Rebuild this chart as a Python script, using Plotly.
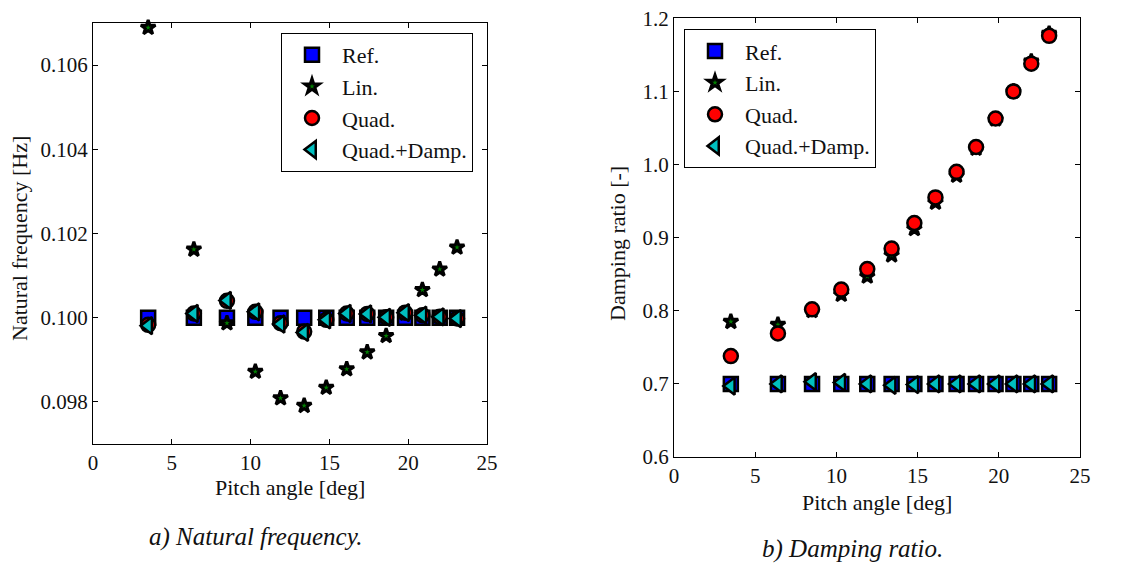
import plotly.graph_objects as go

pitch = [3.5, 6.4, 8.5, 10.3, 11.9, 13.4, 14.8, 16.1, 17.4, 18.6, 19.8, 20.9, 22.0, 23.1]

# Natural frequency [Hz]
fn_ref = [0.1000] * 14
fn_lin = [0.10689, 0.10162, 0.09987, 0.09872, 0.09809, 0.09791, 0.09834, 0.09878,
          0.09918, 0.09957, 0.10010, 0.10066, 0.10115, 0.10167]
fn_quad = [0.09983, 0.10010, 0.10040, 0.10014, 0.09987, 0.09967, 0.09995, 0.10010,
           0.10009, 0.10001, 0.10012, 0.10006, 0.10002, 0.09998]
fn_qd = [0.09981, 0.10010, 0.10041, 0.10014, 0.09985, 0.09965, 0.09995, 0.10010,
         0.10009, 0.10001, 0.10012, 0.10006, 0.10002, 0.09998]
fn_ticks = [0.098, 0.100, 0.102, 0.104, 0.106]

# Damping ratio [-]
zeta_ref = [0.700] * 14
zeta_lin = [0.785, 0.781, 0.800, 0.822, 0.847, 0.876, 0.912, 0.948, 0.985, 1.022,
            1.062, 1.100, 1.141, 1.179]
zeta_quad = [0.738, 0.769, 0.802, 0.829, 0.857, 0.885, 0.920, 0.955, 0.990, 1.024,
             1.063, 1.100, 1.138, 1.176]
zeta_qd = [0.697, 0.700, 0.703, 0.702, 0.700, 0.698, 0.699, 0.700, 0.700, 0.700,
           0.700, 0.700, 0.700, 0.700]
zeta_ticks = [0.6, 0.7, 0.8, 0.9, 1.0, 1.1, 1.2]

pitch_ticks = [0, 5, 10, 15, 20, 25]

names = ["Ref.", "Lin.", "Quad.", "Quad.+Damp."]
symbols = ["square", "star", "circle", "triangle-left"]
colors = ["#0000ff", "#008000", "#ff0000", "#00bfbf"]
sizes = [14, 11, 14, 15]
lwidths = [2.5, 3, 2.5, 2.5]

FONT = "Liberation Serif"
TXT = "#111"

# page has an 8px body margin: figure origin sits at (8, 8) of the window
OFF = 8
FW, FH = 1135 - OFF, 563 - OFF


def fx(px):
    return (px - OFF) / FW


def fy(py):
    return 1 - (py - OFF) / FH


fig = go.Figure()

left_sets = [fn_ref, fn_lin, fn_quad, fn_qd]
right_sets = [zeta_ref, zeta_lin, zeta_quad, zeta_qd]

for i in range(4):
    fig.add_trace(go.Scatter(
        x=pitch, y=left_sets[i], mode="markers", name=names[i],
        marker=dict(symbol=symbols[i], color=colors[i], size=sizes[i],
                    line=dict(color="black", width=lwidths[i])),
        xaxis="x", yaxis="y", legend="legend", legendgroup="a%d" % i,
        cliponaxis=False))
for i in range(4):
    fig.add_trace(go.Scatter(
        x=pitch, y=right_sets[i], mode="markers", name=names[i],
        marker=dict(symbol=symbols[i], color=colors[i], size=sizes[i],
                    line=dict(color="black", width=lwidths[i])),
        xaxis="x2", yaxis="y2", legend="legend2", legendgroup="b%d" % i,
        cliponaxis=False))

axstyle = dict(showline=True, linecolor="black", linewidth=1, mirror="allticks",
               ticks="inside", ticklen=5, tickcolor="black", tickwidth=1,
               showgrid=False, zeroline=False, automargin=False,
               ticklabeloverflow="allow",
               tickfont=dict(family=FONT, size=21, color=TXT))

legstyle = dict(xanchor="left", yanchor="top",
                bordercolor="black", borderwidth=1, bgcolor="white",
                font=dict(family=FONT, size=22, color=TXT),
                traceorder="grouped", tracegroupgap=0, itemsizing="trace",
                itemwidth=50)

fig.update_layout(
    width=FW, height=FH,
    margin=dict(l=0, r=0, t=0, b=0, autoexpand=False),
    paper_bgcolor="white", plot_bgcolor="white",
    font=dict(family=FONT, size=21, color=TXT),
    xaxis=dict(domain=[fx(93), fx(487)], range=[0, 25.0001], tickvals=pitch_ticks,
               anchor="y", **axstyle),
    yaxis=dict(domain=[fy(444), fy(23)], range=[0.097, 0.107], tickvals=fn_ticks,
               tickformat=".3f", anchor="x", **axstyle),
    xaxis2=dict(domain=[fx(674), fx(1080)], range=[0, 25.0001], tickvals=pitch_ticks,
                anchor="y2", **axstyle),
    yaxis2=dict(domain=[fy(457), fy(18.3)], range=[0.6, 1.20001], tickvals=zeta_ticks,
                tickformat=".1f", anchor="x2", **axstyle),
    legend=dict(x=fx(281), y=fy(33), **legstyle),
    legend2=dict(x=fx(684), y=fy(29.3), **legstyle),
)

ann = [
    dict(text="Natural frequency [Hz]", x=fx(20), y=fy(239), textangle=-90),
    dict(text="Pitch angle [deg]", x=fx(290), y=fy(487)),
    dict(text="Damping ratio [-]", x=fx(617), y=fy(244), textangle=-90),
    dict(text="Pitch angle [deg]", x=fx(877), y=fy(502)),
    dict(text="<i>a) Natural frequency.</i>", x=fx(256), y=fy(537),
         font=dict(family=FONT, size=25, color=TXT)),
    dict(text="<i>b) Damping ratio.</i>", x=fx(852), y=fy(549),
         font=dict(family=FONT, size=25, color=TXT)),
]
for a in ann:
    a.setdefault("font", dict(family=FONT, size=22, color=TXT))
    fig.add_annotation(xref="paper", yref="paper", showarrow=False,
                       xanchor="center", yanchor="middle", **a)

fig.write_html("out.html")
